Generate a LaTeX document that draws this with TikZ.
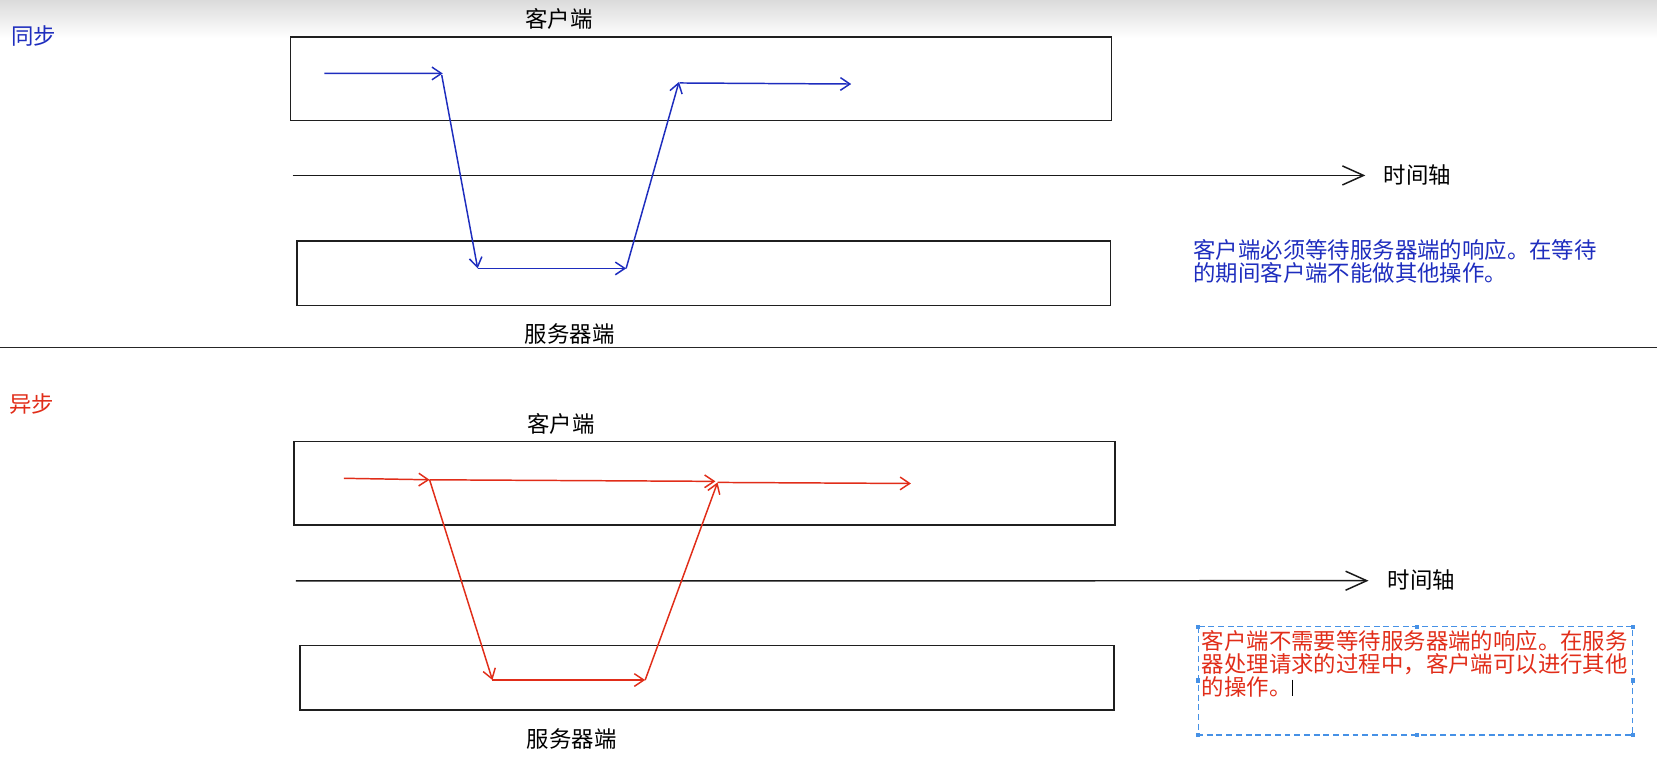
\documentclass[tikz,border=0pt]{standalone}
\usepackage{fontspec}
\newfontfamily\cjk{Noto Sans CJK SC}
\usetikzlibrary{arrows.meta}
\definecolor{syncblue}{RGB}{30,45,190}
\definecolor{asyncred}{RGB}{225,45,25}
\definecolor{handleblue}{RGB}{70,145,230}
\begin{document}
\begin{tikzpicture}[x=0.5pt,y=-0.5pt,
  box/.style={draw=black!88,line width=0.7pt},
  lbl/.style={font={\cjk\fontsize{10.6pt}{10.8pt}\selectfont},inner sep=0pt},
  para/.style={lbl,anchor=base west},
  flow/.style={line width=0.7pt,-{Straight Barb[length=4.5pt,width=6pt]}},
  timeaxis/.style={draw=black!90,line width=0.7pt,-{Straight Barb[length=10pt,width=9pt]}},
  handle/.style={fill=handleblue}]
\useasboundingbox (0,0) rectangle (1568,725);
\shade[top color=black!14,bottom color=white] (0,0) rectangle (1568,36);

% ---------- synchronous ----------
\node[lbl,text=syncblue] (tSync) at (32,34) {同步};
\node[lbl] (tClientA) at (529,18) {客户端};
\draw[box] (275,35) rectangle (1052,114);
\draw[box] (281,228) rectangle (1051,289);
\node[lbl] (tServerA) at (539,316) {服务器端};

\coordinate (axA0) at (277,166);
\coordinate (axA1) at (1292,166);
\draw[timeaxis] (axA0) -- (axA1);
\node[lbl,anchor=west] (tTimeA) at (1309,166) {时间轴};

\coordinate (s1) at (307,69.4);
\coordinate (s2) at (419,69.5);
\coordinate (s3) at (418,71);
\coordinate (s4) at (452,254);
\coordinate (s5) at (592.5,254);
\coordinate (s6) at (642.5,77.5);
\coordinate (s6b) at (643,78.5);
\coordinate (s7) at (805.5,79.5);
\begin{scope}[draw=syncblue]
\draw[flow] (s1) -- (s2);
\draw[flow] (s3) -- (s4);
\draw[flow] (s4) -- (s5);
\draw[flow] (s5) -- (s6);
\draw[flow] (s6b) -- (s7);
\end{scope}

\node[para,text=syncblue] (pA1) at (1129,245) {客户端必须等待服务器端的响应。在等待};
\node[para,text=syncblue] (pA2) at (1129,266) {的期间客户端不能做其他操作。};

% ---------- divider ----------
\coordinate (dv0) at (0,328.6);
\coordinate (dv1) at (1568,328.6);
\draw[black!85,line width=0.7pt] (dv0) -- (dv1);

% ---------- asynchronous ----------
\node[lbl,text=asyncred] (tAsync) at (30,382) {异步};
\node[lbl] (tClientB) at (531,401) {客户端};
\draw[box] (278,418) rectangle (1055,497);
\draw[box] (284,611) rectangle (1054,672);
\node[lbl] (tServerB) at (541,699) {服务器端};

\coordinate (axB0) at (280,549.7);
\coordinate (axB1) at (1295,549.5);
\draw[timeaxis] (axB0) -- (axB1);
\node[lbl,anchor=west] (tTimeB) at (1313,549) {时间轴};

\coordinate (r1) at (325.5,452.6);
\coordinate (r2) at (406.5,454);
\coordinate (r3) at (677,455.5);
\coordinate (r4) at (466,643.5);
\coordinate (r5) at (610.5,643.5);
\coordinate (r6) at (679,456.5);
\coordinate (r7) at (862,457.5);
\begin{scope}[draw=asyncred]
\draw[flow] (r1) -- (r2);
\draw[flow] (r2) -- (r3);
\draw[flow] (r2) -- (r4);
\draw[flow] (r4) -- (r5);
\draw[flow] (r5) -- (r6);
\draw[flow] (r6) -- (r7);
\end{scope}

\draw[handleblue,line width=0.7pt,dash pattern=on 2.8pt off 1.8pt] (1134,593) rectangle (1545,695.5);
\foreach \hx/\hy in {1134/593,1341/593,1545/593,1134/644,1545/644,1134/695.5,1341/695.5,1545/695.5}
  \fill[handle] (\hx-2,\hy-2) rectangle (\hx+2,\hy+2);

\node[para,text=asyncred] (pB1) at (1137,615) {客户端不需要等待服务器端的响应。在服务};
\node[para,text=asyncred] (pB2) at (1137,636.5) {器处理请求的过程中，客户端可以进行其他};
\node[para,text=asyncred] (pB3) at (1137,658) {的操作。};
\coordinate (cur0) at (1223,643);
\coordinate (cur1) at (1223,659);
\draw[black,line width=0.5pt] (cur0) -- (cur1);
\end{tikzpicture}
\end{document}
